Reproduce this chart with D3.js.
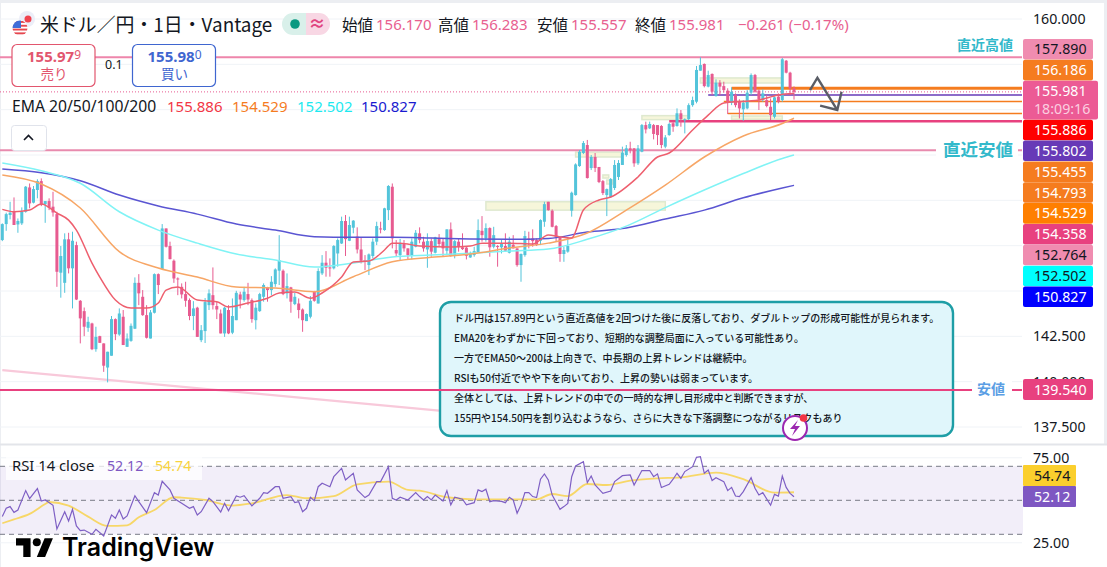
<!DOCTYPE html>
<html>
<head>
<meta charset="utf-8">
<script src="https://cdn.jsdelivr.net/npm/d3@7"></script>
<style>
  html, body { margin: 0; padding: 0; background: #fff; overflow: hidden; }
  text { font-family: "Noto Sans", "Noto Sans CJK JP", sans-serif; }
  .jp { font-family: "Noto Sans CJK JP", sans-serif; }
</style>
</head>
<body>
<div id="chart"></div>
<script>
/* candles */
const opens = [
  147.81,148.69,149.19,149.37,148.67,148.73,149.37,150.71,149.87,150.57,
  151.06,149.78,149.96,149.65,149.24,146.01,145.45,147.85,146.25,147.53,
  144.46,143.89,142.97,143.21,141.79,142.51,142.11,140.78,141.43,143.45,
  142.60,143.58,141.92,142.25,142.92,145.45,144.68,143.67,142.38,143.80,
  145.93,146.21,148.45,147.48,146.67,145.69,145.23,144.83,144.50,143.62,
  144.08,142.29,142.79,144.22,144.77,144.17,143.76,142.66,143.95,142.70,
  143.39,144.81,144.50,144.83,144.50,143.39,143.89,144.68,145.20,145.05,
  145.38,146.12,146.12,144.87,145.20,144.28,144.31,143.98,143.34,143.58,
  144.96,144.31,145.97,146.56,146.30,146.25,147.07,147.62,148.86,147.77,
  148.49,148.00,147.29,146.70,146.43,146.93,147.72,148.45,148.36,149.46,
  150.75,147.26,146.98,147.59,147.35,146.98,147.44,148.18,147.72,147.29,
  147.75,147.11,147.92,147.72,147.22,148.40,146.98,147.72,147.41,147.39,
  146.85,146.98,147.13,148.32,147.90,148.47,147.44,147.48,147.41,147.48,
  147.11,147.55,147.35,146.43,146.98,147.90,147.90,147.81,147.77,148.82,
  149.92,149.43,148.58,147.96,147.04,147.17,149.43,150.29,151.89,152.61,
  153.05,151.78,152.39,151.84,151.06,150.29,150.18,150.68,151.29,151.95,
  152.50,152.87,152.87,152.04,152.68,154.15,153.97,154.15,154.15,154.10,
  152.96,153.60,154.25,154.10,154.80,154.43,154.48,155.25,155.44,157.15,
  157.52,156.27,156.97,155.75,156.49,156.30,156.05,155.38,155.81,155.44,
  155.02,155.07,155.94,156.91,156.05,155.53,155.53,155.16,154.61,155.72,
  155.53,157.70,157.04,156.17
];
const highs = [
  148.73,149.32,149.92,150.16,149.00,149.61,150.79,150.93,150.79,151.16,
  151.21,149.96,150.11,150.47,149.37,147.48,148.18,148.21,148.27,147.72,
  144.50,144.09,143.58,143.25,143.03,142.53,142.11,141.65,143.62,143.49,
  144.04,143.95,142.66,143.21,145.75,145.93,145.05,144.22,143.95,145.97,
  145.97,148.69,148.45,147.72,146.74,145.75,145.42,145.51,144.59,144.44,
  144.13,143.12,144.61,145.09,146.30,144.41,143.98,144.13,144.22,144.59,
  145.01,144.96,145.23,145.45,144.59,144.31,144.90,145.42,145.23,145.82,
  146.25,148.08,146.19,145.97,145.23,144.90,144.59,144.04,143.76,144.72,
  145.01,146.25,146.98,147.20,146.80,147.53,147.90,149.10,149.19,149.10,
  148.91,148.51,147.96,146.98,147.07,147.90,148.82,148.82,149.59,150.84,
  150.93,147.81,147.87,147.81,147.35,147.90,148.36,148.51,147.99,148.18,
  147.90,147.99,148.14,147.90,148.40,148.78,147.81,147.90,148.18,147.44,
  147.17,147.44,148.95,149.13,148.73,148.51,148.54,147.53,147.81,148.18,
  147.99,148.08,147.35,147.07,148.32,148.27,148.40,147.90,148.95,149.92,
  149.92,149.50,148.64,147.99,147.44,147.96,150.48,152.04,152.77,153.27,
  153.33,152.50,152.61,151.84,151.12,150.65,151.23,152.22,152.22,152.96,
  153.05,153.23,152.87,153.05,154.21,154.34,154.34,154.21,154.15,154.15,
  153.60,154.28,154.34,155.07,154.98,154.52,155.35,155.72,157.41,157.89,
  157.55,157.15,157.00,156.67,156.63,156.54,156.18,156.23,155.90,155.57,
  155.53,156.08,157.00,156.97,156.12,156.12,155.81,155.62,155.72,155.90,
  157.85,157.74,157.09,156.283
];
const lows = [
  147.75,148.32,148.95,148.64,148.21,148.64,149.32,149.56,149.83,150.11,
  149.68,148.76,149.46,149.10,145.23,144.63,144.90,145.97,144.04,144.50,
  142.11,142.51,142.75,141.74,141.65,142.14,140.54,139.96,141.43,142.29,
  142.53,142.02,141.92,142.20,142.90,144.22,143.63,142.38,142.38,143.76,
  144.83,146.21,147.40,146.74,145.45,144.77,144.59,144.13,143.39,142.84,
  142.47,142.18,142.13,143.95,143.98,143.45,142.66,142.47,142.62,142.62,
  143.39,144.04,144.41,144.22,143.25,142.88,143.85,144.41,144.41,144.77,
  145.23,145.33,144.77,144.59,143.80,144.22,143.49,142.75,143.34,143.49,
  144.41,144.31,145.88,145.79,145.79,146.19,146.34,147.59,146.93,147.75,
  148.18,147.07,146.52,146.15,145.88,146.80,147.53,148.18,148.32,148.91,
  147.35,146.89,146.71,147.17,146.71,146.74,147.41,147.63,147.17,146.28,
  146.89,147.07,147.48,146.89,146.98,146.89,146.80,147.17,147.26,146.74,
  146.83,146.89,147.11,147.72,147.72,146.89,147.35,146.34,147.07,147.17,
  147.07,147.35,146.34,145.51,146.89,147.35,147.44,147.48,147.53,148.54,
  149.43,148.51,147.72,146.61,146.61,147.11,149.10,150.26,151.85,152.55,
  151.20,151.67,151.56,150.95,150.29,149.13,150.13,150.57,151.12,151.95,
  152.41,152.59,151.85,151.95,152.65,153.69,153.93,153.36,153.05,152.87,
  152.87,153.56,153.78,154.06,154.06,153.69,154.43,155.16,155.35,157.15,
  156.23,156.23,155.81,155.72,155.81,155.94,154.76,155.25,155.13,154.52,
  154.39,155.02,155.81,155.94,154.98,155.44,155.13,154.43,154.52,155.35,
  155.44,157.00,155.81,155.557
];
const closes = [
  148.69,149.24,149.32,148.64,148.86,149.37,150.75,149.83,150.62,151.06,
  149.74,149.96,149.59,149.33,146.06,146.93,147.85,146.25,147.77,144.53,
  143.49,143.03,143.30,141.79,142.47,142.14,140.88,141.65,143.45,142.62,
  143.76,142.02,142.38,143.08,145.45,144.87,143.67,142.42,143.82,145.93,
  145.33,148.45,147.44,146.76,145.69,145.64,144.81,144.46,143.62,144.04,
  142.47,142.84,144.39,144.87,144.22,143.98,142.66,144.08,142.66,143.62,
  144.90,144.53,144.96,144.53,143.45,144.08,144.83,145.33,145.05,145.51,
  146.19,146.70,144.83,145.27,144.41,144.68,143.95,143.39,143.73,144.46,
  144.46,146.10,146.56,146.28,146.25,147.48,147.81,148.86,147.86,148.64,
  148.88,147.29,146.67,146.61,147.02,147.72,148.58,148.40,149.56,150.79,
  147.90,147.07,147.64,147.35,146.98,147.72,148.21,147.81,147.35,147.75,
  147.17,147.96,147.59,147.35,148.40,146.93,147.75,147.44,147.31,146.94,
  147.07,147.20,148.36,148.08,148.47,147.41,148.08,147.44,147.59,147.22,
  147.72,147.35,146.43,147.04,148.03,147.81,147.75,147.53,148.91,149.79,
  149.46,148.54,147.99,147.04,147.26,147.48,150.42,151.98,152.68,153.16,
  151.23,152.39,151.78,151.01,150.40,150.62,151.17,151.95,152.06,152.63,
  152.87,152.77,152.04,152.87,154.15,153.91,154.21,153.66,153.60,153.05,
  153.47,154.21,154.06,154.80,154.48,154.47,155.25,155.53,157.19,157.46,
  156.30,156.91,155.99,156.49,156.27,156.08,155.44,155.99,155.25,155.07,
  155.38,155.94,156.91,155.99,155.57,155.90,155.20,154.70,155.68,155.44,
  157.78,157.04,156.17,155.981
];

/* moving averages: [candle index, price] read at points along each line */
const ema20 = [[0,149.50],[3,149.37],[7,149.47],[10,149.80],[14,149.30],[17,148.91],[19,148.36],[23,146.54],[25,145.77],[29,144.50],
  [33,144.06],[37,144.06],[40,144.34],[42,145.05],[45,145.22],[50,144.50],[55,144.41],[58,144.12],[63,144.34],[68,144.60],
  [71,144.89],[75,144.94],[79,144.60],[82,144.89],[87,145.77],[90,146.60],[94,146.65],[98,147.26],[100,147.64],[102,147.64],
  [107,147.48],[115,147.42],[120,147.48],[123,147.64],[130,147.64],[136,147.59],[140,148.09],[143,147.98],[146,147.92],[149,149.47],
  [153,150.02],[156,150.18],[163,151.29],[168,152.39],[171,152.61],[177,153.88],[181,154.70],[185,155.37],[194,155.53],[199,155.81],[203,155.886]];
const emaIndex = [0,10,20,30,40,50,60,70,80,90,100,110,120,130,140,150,160,170,180,190,200,203];
const ema50 = [151.40,150.90,149.58,147.17,146.27,145.77,145.22,145.16,144.96,145.79,146.61,146.86,147.04,147.37,147.64,148.20,149.46,150.84,152.39,153.55,154.24,154.529];
const ema100 = [152.06,151.63,150.94,149.37,148.36,147.64,147.04,146.71,146.32,146.54,146.87,146.98,147.08,147.20,147.31,147.85,148.58,149.60,150.57,151.48,152.31,152.502];
const ema200 = [151.73,151.52,151.08,150.29,149.69,149.24,148.69,148.36,147.99,147.96,147.96,147.92,147.87,147.85,147.90,148.25,148.47,148.97,149.46,150.14,150.68,150.827];

/* RSI: [candle index, value] at the turning points */
const rsiLine = [[0,40.4],[1,45.3],[2,46.3],[3,42.9],[4,44.3],[6,55.7],[7,51.0],[9,56.9],[10,49.6],[11,50.2],[13,47.1],[14,33.1],[16,43.3],[17,37.8],[18,44.7],[19,34.9],[20,32.2],[21,32.5],[23,30.0],[24,32.9],[26,29.0],[28,41.4],[29,39.4],[30,44.3],[31,39.0],[32,40.8],[34,52.7],[35,49.2],[37,42.7],[39,54.5],[40,53.1],[41,61.2],[43,56.1],[44,51.2],[46,48.2],[48,45.3],[49,46.3],[50,41.4],[51,43.3],[53,51.2],[54,49.2],[56,43.1],[57,48.2],[58,43.9],[60,52.5],[61,51.8],[62,52.7],[64,46.7],[66,51.2],[67,54.5],[68,54.1],[70,58.0],[71,58.0],[72,51.2],[74,52.2],[75,48.6],[76,49.2],[77,43.3],[78,45.3],[79,51.8],[80,49.8],[81,58.0],[82,60.0],[84,58.0],[85,63.9],[87,68.8],[88,62.0],[90,65.9],[91,56.1],[93,51.6],[94,53.1],[96,61.0],[97,61.0],[99,69.8],[100,51.2],[101,50.2],[102,51.8],[104,50.2],[106,54.5],
  [107,52.2],[108,50.2],[109,52.2],[110,50.2],[111,53.1],[113,49.6],[114,55.7],[115,47.3],[116,51.8],[118,50.6],[119,47.3],[121,48.6],[122,56.1],[123,55.1],[124,56.5],[125,49.2],[126,49.8],[128,49.4],[129,48.6],[130,51.8],[131,50.2],[132,42.4],[133,47.3],[134,54.5],[135,54.5],[136,52.2],[137,51.6],[138,62.4],[139,65.5],[140,62.0],[141,53.1],[143,44.7],[144,46.3],[145,48.2],[146,63.9],[147,70.2],[149,72.7],[150,60.4],[151,64.3],[152,59.0],[154,54.1],[156,55.5],[157,61.0],[159,64.5],[161,64.9],[162,59.0],[164,67.5],[166,67.5],[167,63.9],[168,65.5],[169,57.5],[171,59.4],[172,62.4],[173,65.9],[174,62.9],[175,66.9],[177,69.8],[178,75.3],[179,75.7],[180,65.9],[181,67.8],[182,61.6],[183,63.3],[185,61.0],[186,55.7],[187,57.6],[188,52.5],[189,52.2],[190,55.1],[192,63.3],[193,57.1],[194,53.1],[195,54.5],[197,47.1],[198,53.5],[199,52.5],[200,64.3],[201,57.6],[202,54.1],[203,52.12]];
const rsiMa = [[0,36.5],[3,38.8],[7,42.0],[11,47.8],[12,49.0],[17,46.9],[22,40.4],[27,34.9],[32,35.3],[35,40.0],[39,44.3],[44,51.8],[46,51.6],[52,50.2],[59,46.9],[64,48.2],[73,53.1],[78,51.2],[85,52.5],[91,59.4],[99,61.0],[104,56.1],[107,55.7],[114,51.8],[121,50.6],[130,50.6],[137,50.6],[141,53.7],[145,52.5],[150,59.6],[155,59.0],[161,61.6],[168,62.9],[174,63.5],[183,66.3],[190,62.4],[198,54.5],[203,54.74]];

/* drawn levels, zones and arrow */
const gridTicks = [160,157.5,155,152.5,150,147.5,145,142.5,140,137.5];
const priceTicks = [160,142.5,140,137.5];
const rsiTicks = [75,25];
const rsiBands = [70,50,30];
const topLevel = 157.89, lowLevel = 152.764, bottomLevel = 139.54;
const shortLevels = [
  { price: 156.186, from: 187, color: "#f57c1f", width: 3 },
  { price: 155.802, from: 181, color: "#673ab7", width: 1.5 },
  { price: 155.455, from: 185, color: "#f57c1f", width: 1.5 },
  { price: 154.793, from: 186, color: "#f57c1f", width: 1.5 },
  { price: 154.358, from: 171, color: "#e8417f", width: 2.5 }
];
const lastPrice = 155.981;
const trendLine = [[0,140.64],[112,138.4]];
const zones = [
  [124,170,149.92,149.46],[147,159,152.66,152.39],[154,155.5,151.4,151.23],[155,156.5,151.12,150.9],
  [164,176,154.67,154.45],[179,200,156.75,156.47],[187,200,154.65,154.47]
];
const arrowLine = [[207.1,156.08],[209,156.76],[214.1,154.98]];
const arrowHead = [[209.7,155.22],[214.1,154.98],[215.2,155.99]];

/* axis tags, top to bottom */
const tagValues = ["157.890","156.186","155.981","155.886","155.802","155.455","154.793","154.529","154.358","152.764","152.502","150.827"];
const tagFills = ["#f08cb0","#f57c1f","#ec5b95","#ff0000","#673ab7","#f57c1f","#f57c1f","#ff7f00","#e8417f","#f08cb0","#00ffff","#0000ff"];
const tagInk = ["#131722","#fff","#fff","#fff","#fff","#fff","#fff","#fff","#fff","#131722","#131722","#fff"];
const countdown = "18:09:16";
const ohlcNames = ["始値","高値","安値","終値"];
const ohlcValues = ["156.170","156.283","155.557","155.981"];
const emaValues = ["155.886","154.529","152.502","150.827"];
const noteLines = [
  "ドル円は157.89円という直近高値を2回つけた後に反落しており、ダブルトップの形成可能性が見られます。",
  "EMA20をわずかに下回っており、短期的な調整局面に入っている可能性あり。",
  "一方でEMA50〜200は上向きで、中長期の上昇トレンドは継続中。",
  "RSIも50付近でやや下を向いており、上昇の勢いは弱まっています。",
  "全体としては、上昇トレンドの中での一時的な押し目形成中と判断できますが、",
  "155円や154.50円を割り込むようなら、さらに大きな下落調整につながるリスクもあり"
];

const width = 1107, height = 567;
const paneRight = 1022;
const upColor = "#53c4da", downColor = "#e75b90";

const svg = d3.select("#chart").append("svg")
  .attr("width", width).attr("height", height)
  .style("display", "block");

const x = d3.scaleLinear().domain([0, 203]).range([2.3, 794]);
const y = d3.scaleLinear().domain([160, 137.5]).range([19, 427]);
const yRsi = d3.scaleLinear().domain([70, 30]).range([466.3, 534.3]);

/* page frame */
svg.append("rect").attr("width", width).attr("height", 3).attr("fill", "#eceef2");
svg.append("rect").attr("x", 1104).attr("width", 3).attr("height", 444).attr("fill", "#eceef2");
svg.append("rect").attr("width", 1).attr("height", height).attr("fill", "#eceef2");
svg.append("rect").attr("y", 443.5).attr("width", width).attr("height", 2).attr("fill", "#e3e5ea");

/* grid */
svg.append("g").selectAll("line").data(gridTicks).join("line")
  .attr("x1", 0).attr("x2", paneRight)
  .attr("y1", d => y(d)).attr("y2", d => y(d))
  .attr("stroke", "#f0f3f7");
svg.append("g").selectAll("line").data(rsiTicks).join("line")
  .attr("x1", 0).attr("x2", paneRight)
  .attr("y1", d => yRsi(d)).attr("y2", d => yRsi(d))
  .attr("stroke", "#f0f3f7");

/* price axis */
const priceAxis = d3.axisRight(y).tickValues(priceTicks).tickFormat(d3.format(".3f")).tickSize(0).tickPadding(0);
svg.append("g").attr("transform", "translate(1033,0)").call(priceAxis)
  .call(g => g.select(".domain").remove())
  .selectAll("text").attr("font-size", 14.2).attr("fill", "#131722")
  .style("font-family", '"Noto Sans", sans-serif');
const rsiAxis = d3.axisRight(yRsi).tickValues(rsiTicks).tickFormat(d3.format(".2f")).tickSize(0).tickPadding(0);
svg.append("g").attr("transform", "translate(1033,0)").call(rsiAxis)
  .call(g => g.select(".domain").remove())
  .selectAll("text").attr("font-size", 14.2).attr("fill", "#131722")
  .style("font-family", '"Noto Sans", sans-serif');

/* zones */
svg.append("g").selectAll("rect").data(zones).join("rect")
  .attr("x", d => x(d[0])).attr("width", d => x(d[1]) - x(d[0]))
  .attr("y", d => y(d[2])).attr("height", d => y(d[3]) - y(d[2]))
  .attr("fill", "#f6f6da").attr("stroke", "#dfe9cf").attr("stroke-width", 1.5);

/* trend line under the levels */
const line = d3.line().x(d => x(d[0])).y(d => y(d[1]));
svg.append("path").attr("d", line(trendLine))
  .attr("fill", "none").attr("stroke", "#f8c9da").attr("stroke-width", 2.2);

/* full width levels */
function level(price, color, w) {
  svg.append("line").attr("x1", 0).attr("x2", paneRight)
    .attr("y1", y(price)).attr("y2", y(price))
    .attr("stroke", color).attr("stroke-width", w);
}
level(topLevel, "#ee86ab", 2);
level(lowLevel, "#e88bae", 2);

svg.append("g").selectAll("line").data(shortLevels).join("line")
  .attr("x1", d => x(d.from)).attr("x2", paneRight)
  .attr("y1", d => y(d.price)).attr("y2", d => y(d.price))
  .attr("stroke", d => d.color).attr("stroke-width", d => d.width);

svg.append("line").attr("x1", 0).attr("x2", paneRight)
  .attr("y1", y(lastPrice)).attr("y2", y(lastPrice))
  .attr("stroke", "#e75b90").attr("stroke-dasharray", "1 2");

/* candles */
const candles = d3.range(opens.length);
const candleGroup = svg.append("g");
candleGroup.selectAll("line").data(candles).join("line")
  .attr("x1", d => x(d)).attr("x2", d => x(d))
  .attr("y1", d => y(highs[d])).attr("y2", d => y(lows[d]))
  .attr("stroke", d => closes[d] >= opens[d] ? upColor : downColor);
candleGroup.selectAll("rect").data(candles).join("rect")
  .attr("x", d => x(d) - 1.5).attr("width", 3)
  .attr("y", d => y(Math.max(opens[d], closes[d])))
  .attr("height", d => Math.max(1, Math.abs(y(opens[d]) - y(closes[d]))))
  .attr("fill", d => closes[d] >= opens[d] ? upColor : downColor);

/* EMAs */
const smooth = d3.line().x(d => x(d[0])).y(d => y(d[1])).curve(d3.curveMonotoneX);
function emaPath(points, color) {
  svg.append("path").attr("d", smooth(points))
    .attr("fill", "none").attr("stroke", color).attr("stroke-width", 1.5);
}
const zipIndex = values => values.map((v, i) => [emaIndex[i], v]);
emaPath(zipIndex(ema200), "#5a55d2");
emaPath(zipIndex(ema100), "#80f3f5");
emaPath(zipIndex(ema50), "#f7a666");
emaPath(ema20, "#ee5f6e");

/* arrow */
[arrowLine, arrowHead].forEach(pts => {
  svg.append("path").attr("d", line(pts)).attr("fill", "none")
    .attr("stroke", "#5a5d66").attr("stroke-width", 2.4);
});

/* note box */
svg.append("rect").attr("x", 440).attr("y", 302).attr("width", 513).attr("height", 134).attr("rx", 11)
  .attr("fill", "#e0f6fb").attr("stroke", "#1e9ea6").attr("stroke-width", 2.4);
svg.append("g").selectAll("text").data(noteLines).join("text")
  .attr("class", "jp").attr("x", 454)
  .attr("y", (d, i) => 322 + i * 20)
  .attr("font-size", 10).attr("font-weight", 500).attr("fill", "#131722")
  .text(d => d);

level(bottomLevel, "#e8417f", 2);

/* lightning icon */
svg.append("circle").attr("cx", 795).attr("cy", 428).attr("r", 12)
  .attr("fill", "#fff").attr("stroke", "#9c27b0").attr("stroke-width", 2);
svg.append("path").attr("d", "M798 420 L790 429 L795 429 L792 436 L800 426 L795 426 Z").attr("fill", "#9c27b0");
svg.append("circle").attr("cx", 803.5).attr("cy", 418).attr("r", 3.8).attr("fill", "#f23645");

/* level captions with a white gap in the line */
svg.append("rect").attr("x", 936).attr("y", 138).attr("width", 82).attr("height", 24).attr("fill", "#fff");
svg.append("rect").attr("x", 972).attr("y", 378).attr("width", 40).attr("height", 22).attr("fill", "#fff");
function caption(txt, xPos, yPos, size, color) {
  svg.append("text").attr("class", "jp").attr("x", xPos).attr("y", yPos)
    .attr("text-anchor", "end").attr("font-size", size).attr("font-weight", 700)
    .attr("fill", color).text(txt);
}
caption("直近高値", 1013, 50, 14, "#33b9cb");
caption("直近安値", 1013, 155.5, 17.5, "#33b9cb");
caption("安値", 1005, 394, 14, "#5b9ee4");

/* axis tags */
const tagH = 20.85;
let tagY = 39;
tagValues.forEach((v, i) => {
  const tall = i === 2;
  const h = tall ? tagH * 1.87 : tagH;
  const tagW = tall ? 75 : 70;
  svg.append("rect").attr("x", 1023).attr("y", tagY).attr("width", tagW).attr("height", h - 0.3)
    .attr("rx", 2).attr("fill", tagFills[i]);
  svg.append("text").attr("x", 1034).attr("y", tagY + 15.3).attr("font-size", 14.2)
    .attr("fill", tagInk[i]).text(v);
  if (tall) {
    svg.append("text").attr("x", 1034).attr("y", tagY + 33).attr("font-size", 14.2)
      .attr("fill", "#fbcfe0").text(countdown);
  }
  tagY += h;
});
svg.append("rect").attr("x", 1023).attr("y", 379).attr("width", 70).attr("height", 21).attr("rx", 2).attr("fill", "#e8417f");
svg.append("text").attr("x", 1034).attr("y", 394.5).attr("font-size", 14.2).attr("fill", "#fff").text(bottomLevel.toFixed(3));

/* RSI pane */
svg.append("rect").attr("x", 0).attr("width", paneRight + 1)
  .attr("y", yRsi(70)).attr("height", yRsi(30) - yRsi(70))
  .attr("fill", "#7e57c2").attr("fill-opacity", 0.1);
svg.append("g").selectAll("line").data(rsiBands).join("line")
  .attr("x1", 0).attr("x2", paneRight + 1)
  .attr("y1", d => yRsi(d)).attr("y2", d => yRsi(d))
  .attr("stroke", "#787b86").attr("stroke-dasharray", "5 4");
const rsiPath = d3.line().x(d => x(d[0])).y(d => yRsi(d[1]));
svg.append("path").attr("d", rsiPath.curve(d3.curveMonotoneX)(rsiMa))
  .attr("fill", "none").attr("stroke", "#f7d768").attr("stroke-width", 1.8);
svg.append("path").attr("d", rsiPath.curve(d3.curveLinear)(rsiLine))
  .attr("fill", "none").attr("stroke", "#7e5fc4").attr("stroke-width", 1.2);

svg.append("rect").attr("x", 1023).attr("y", 465).attr("width", 53).attr("height", 21).attr("rx", 1).attr("fill", "#fbcf2d");
svg.append("text").attr("x", 1034).attr("y", 480.5).attr("font-size", 14.2).attr("fill", "#131722").text("54.74");
svg.append("rect").attr("x", 1023).attr("y", 486).attr("width", 53).attr("height", 21).attr("rx", 1).attr("fill", "#7e57c2");
svg.append("text").attr("x", 1034).attr("y", 501.5).attr("font-size", 14.2).attr("fill", "#fff").text("52.12");

/* RSI legend */
svg.append("rect").attr("x", 6).attr("y", 457).attr("width", 196).attr("height", 23).attr("fill", "#fff").attr("fill-opacity", 0.75);
svg.append("text").attr("x", 12).attr("y", 471).attr("font-size", 14.8).attr("fill", "#131722").text("RSI 14 close");
svg.append("text").attr("x", 107).attr("y", 471).attr("font-size", 14.2).attr("fill", "#7e57c2").text("52.12");
svg.append("text").attr("x", 155).attr("y", 471).attr("font-size", 14.2).attr("fill", "#f7d33f").text("54.74");

/* watermark */
svg.append("path").attr("transform", "translate(16,534) scale(1.04)")
  .attr("d", "M14 22H7V11H0V4h14v18zM28 22h-8l7.5-18h8L28 22z").attr("fill", "#000");
svg.append("circle").attr("cx", 36.8).attr("cy", 542.3).attr("r", 4).attr("fill", "#000");
svg.append("text").attr("x", 62).attr("y", 556).attr("font-size", 25).attr("font-weight", 600)
  .style("font-family", "Inter, sans-serif").attr("fill", "#000").text("TradingView");

/* header: flag */
const flag = svg.append("g");
flag.append("circle").attr("cx", 27).attr("cy", 19).attr("r", 8).attr("fill", "#eceef8");
flag.append("circle").attr("cx", 28).attr("cy", 19).attr("r", 3.5).attr("fill", "#f0434f");
svg.append("clipPath").attr("id", "flagClip").append("circle").attr("cx", 20).attr("cy", 28).attr("r", 7.5);
const flagInner = flag.append("g").attr("clip-path", "url(#flagClip)");
flagInner.append("rect").attr("x", 12).attr("y", 20).attr("width", 16).attr("height", 16).attr("fill", "#fff");
d3.range(4).forEach(i => {
  flagInner.append("rect").attr("x", 12).attr("y", 21 + i * 3.8).attr("width", 16).attr("height", 1.9).attr("fill", "#e5474f");
});
flagInner.append("rect").attr("x", 12).attr("y", 20).attr("width", 9).attr("height", 8).attr("fill", "#3f6ed8");

/* header: title and status */
svg.append("text").attr("class", "jp").attr("x", 40).attr("y", 32).attr("font-size", 18.9)
  .attr("fill", "#131722").text("米ドル／円・1日・Vantage");
svg.append("path").attr("d", "M306 13H293a11 11 0 0 0 0 22H306Z").attr("fill", "#d9f0ea");
svg.append("path").attr("d", "M306 13H319a11 11 0 0 1 0 22H306Z").attr("fill", "#f8d7e4");
svg.append("circle").attr("cx", 295).attr("cy", 24).attr("r", 4.8).attr("fill", "#089981");
svg.append("text").attr("x", 317).attr("y", 30).attr("font-size", 17).attr("font-weight", 700)
  .attr("text-anchor", "middle").attr("fill", "#e0447f").text("≈");

/* header: OHLC */
const ohlcNameX = [342,438,537,635];
ohlcNames.forEach((n, i) => {
  svg.append("text").attr("class", "jp").attr("x", ohlcNameX[i]).attr("y", 31).attr("font-size", 15.5)
    .attr("fill", "#131722").text(n);
  svg.append("text").attr("x", ohlcNameX[i] + 34).attr("y", 30).attr("font-size", 15)
    .attr("fill", "#e8608f").text(ohlcValues[i]);
});
svg.append("text").attr("x", 738).attr("y", 30).attr("font-size", 15).attr("fill", "#e8608f").text("−0.261 (−0.17%)");

/* header: buy and sell buttons */
function button(left, color, big, small, label) {
  svg.append("rect").attr("x", left).attr("y", 44.5).attr("width", 83).attr("height", 42).attr("rx", 5)
    .attr("fill", "#fff").attr("stroke", color).attr("stroke-width", 1.2);
  const t = svg.append("text").attr("x", left + 42).attr("y", 62).attr("text-anchor", "middle")
    .attr("fill", color).attr("font-size", 15);
  t.append("tspan").attr("font-weight", 700).text(big);
  t.append("tspan").attr("font-size", 12).attr("dy", -3).text(small);
  svg.append("text").attr("class", "jp").attr("x", left + 42).attr("y", 79).attr("text-anchor", "middle")
    .attr("font-size", 13.5).attr("fill", color).text(label);
}
button(12, "#e2566e", "155.97", "9", "売り");
button(132.5, "#3f66d0", "155.98", "0", "買い");
svg.append("text").attr("x", 105).attr("y", 69).attr("font-size", 12.5).attr("fill", "#131722").text("0.1");

/* header: EMA row */
svg.append("text").attr("x", 12).attr("y", 112).attr("font-size", 15.7).attr("fill", "#131722").text("EMA 20/50/100/200");
const emaLegendX = [167,232,297,361];
const emaLegendColors = ["#f23645","#f57c1f","#1de9f0","#1a1ad0"];
emaValues.forEach((v, i) => {
  svg.append("text").attr("x", emaLegendX[i]).attr("y", 112).attr("font-size", 15)
    .attr("fill", emaLegendColors[i]).text(v);
});

/* collapse button */
svg.append("rect").attr("x", 11.5).attr("y", 125.5).attr("width", 35).attr("height", 25).attr("rx", 3)
  .attr("fill", "#fff").attr("stroke", "#e0e3eb");
svg.append("path").attr("d", "M24 140 L28.5 135.5 L33 140").attr("fill", "none")
  .attr("stroke", "#131722").attr("stroke-width", 1.6);
</script>
</body>
</html>
